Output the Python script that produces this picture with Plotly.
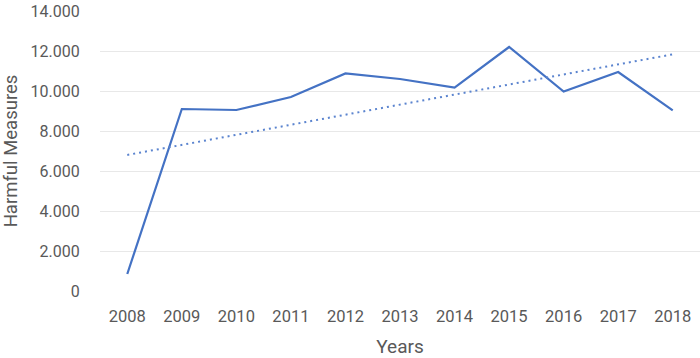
import numpy as np
import plotly.graph_objects as go

years = ["2008", "2009", "2010", "2011", "2012", "2013", "2014", "2015", "2016", "2017", "2018"]
harmful = [850, 9100, 9050, 9700, 10880, 10600, 10170, 12200, 9970, 10950, 9030]
y_ticks = [0, 2000, 4000, 6000, 8000, 10000, 12000, 14000]

# linear trendline (least squares, as in a spreadsheet trendline)
idx = np.arange(len(years))
slope, intercept = np.polyfit(idx, harmful, 1)
trend = slope * idx + intercept

fig = go.Figure()
fig.add_trace(go.Scatter(
    x=years, y=harmful, mode="lines",
    line=dict(color="#4472C4", width=2.2),
    showlegend=False, hoverinfo="x+y"))
fig.add_trace(go.Scatter(
    x=years, y=trend, mode="lines",
    line=dict(color="#5b84cf", width=2, dash="2px,4px"),
    showlegend=False, hoverinfo="skip"))

font_color = "#595959"
fig.update_layout(
    width=700, height=358,
    margin=dict(l=100, r=0, t=11, b=67),
    paper_bgcolor="white", plot_bgcolor="white",
    separators=",.",
    font=dict(family="Roboto, Arial, sans-serif", color=font_color, size=16),
    xaxis=dict(
        type="category", range=[-0.5, 10.5],
        showgrid=False, zeroline=False, showline=False,
        ticks="outside", ticklen=10, tickcolor="rgba(0,0,0,0)",
        tickfont=dict(size=16.5, color=font_color),
        title=dict(text="Years", font=dict(size=19, color=font_color), standoff=15),
    ),
    yaxis=dict(
        range=[0, 14000], tickvals=y_ticks, tickformat=",.0f",
        showgrid=True, gridcolor="#e8e8e8", gridwidth=1,
        zeroline=False, showline=False,
        ticks="outside", ticklen=16, tickcolor="rgba(0,0,0,0)",
        tickfont=dict(size=16, color=font_color),
        title=dict(text="Harmful Measures", font=dict(size=18.5, color=font_color), standoff=14),
    ),
)

fig.write_html(
    "out.html",
    config={"displayModeBar": False},
    post_script="document.body.style.margin='0';document.body.style.overflow='hidden';",
)
